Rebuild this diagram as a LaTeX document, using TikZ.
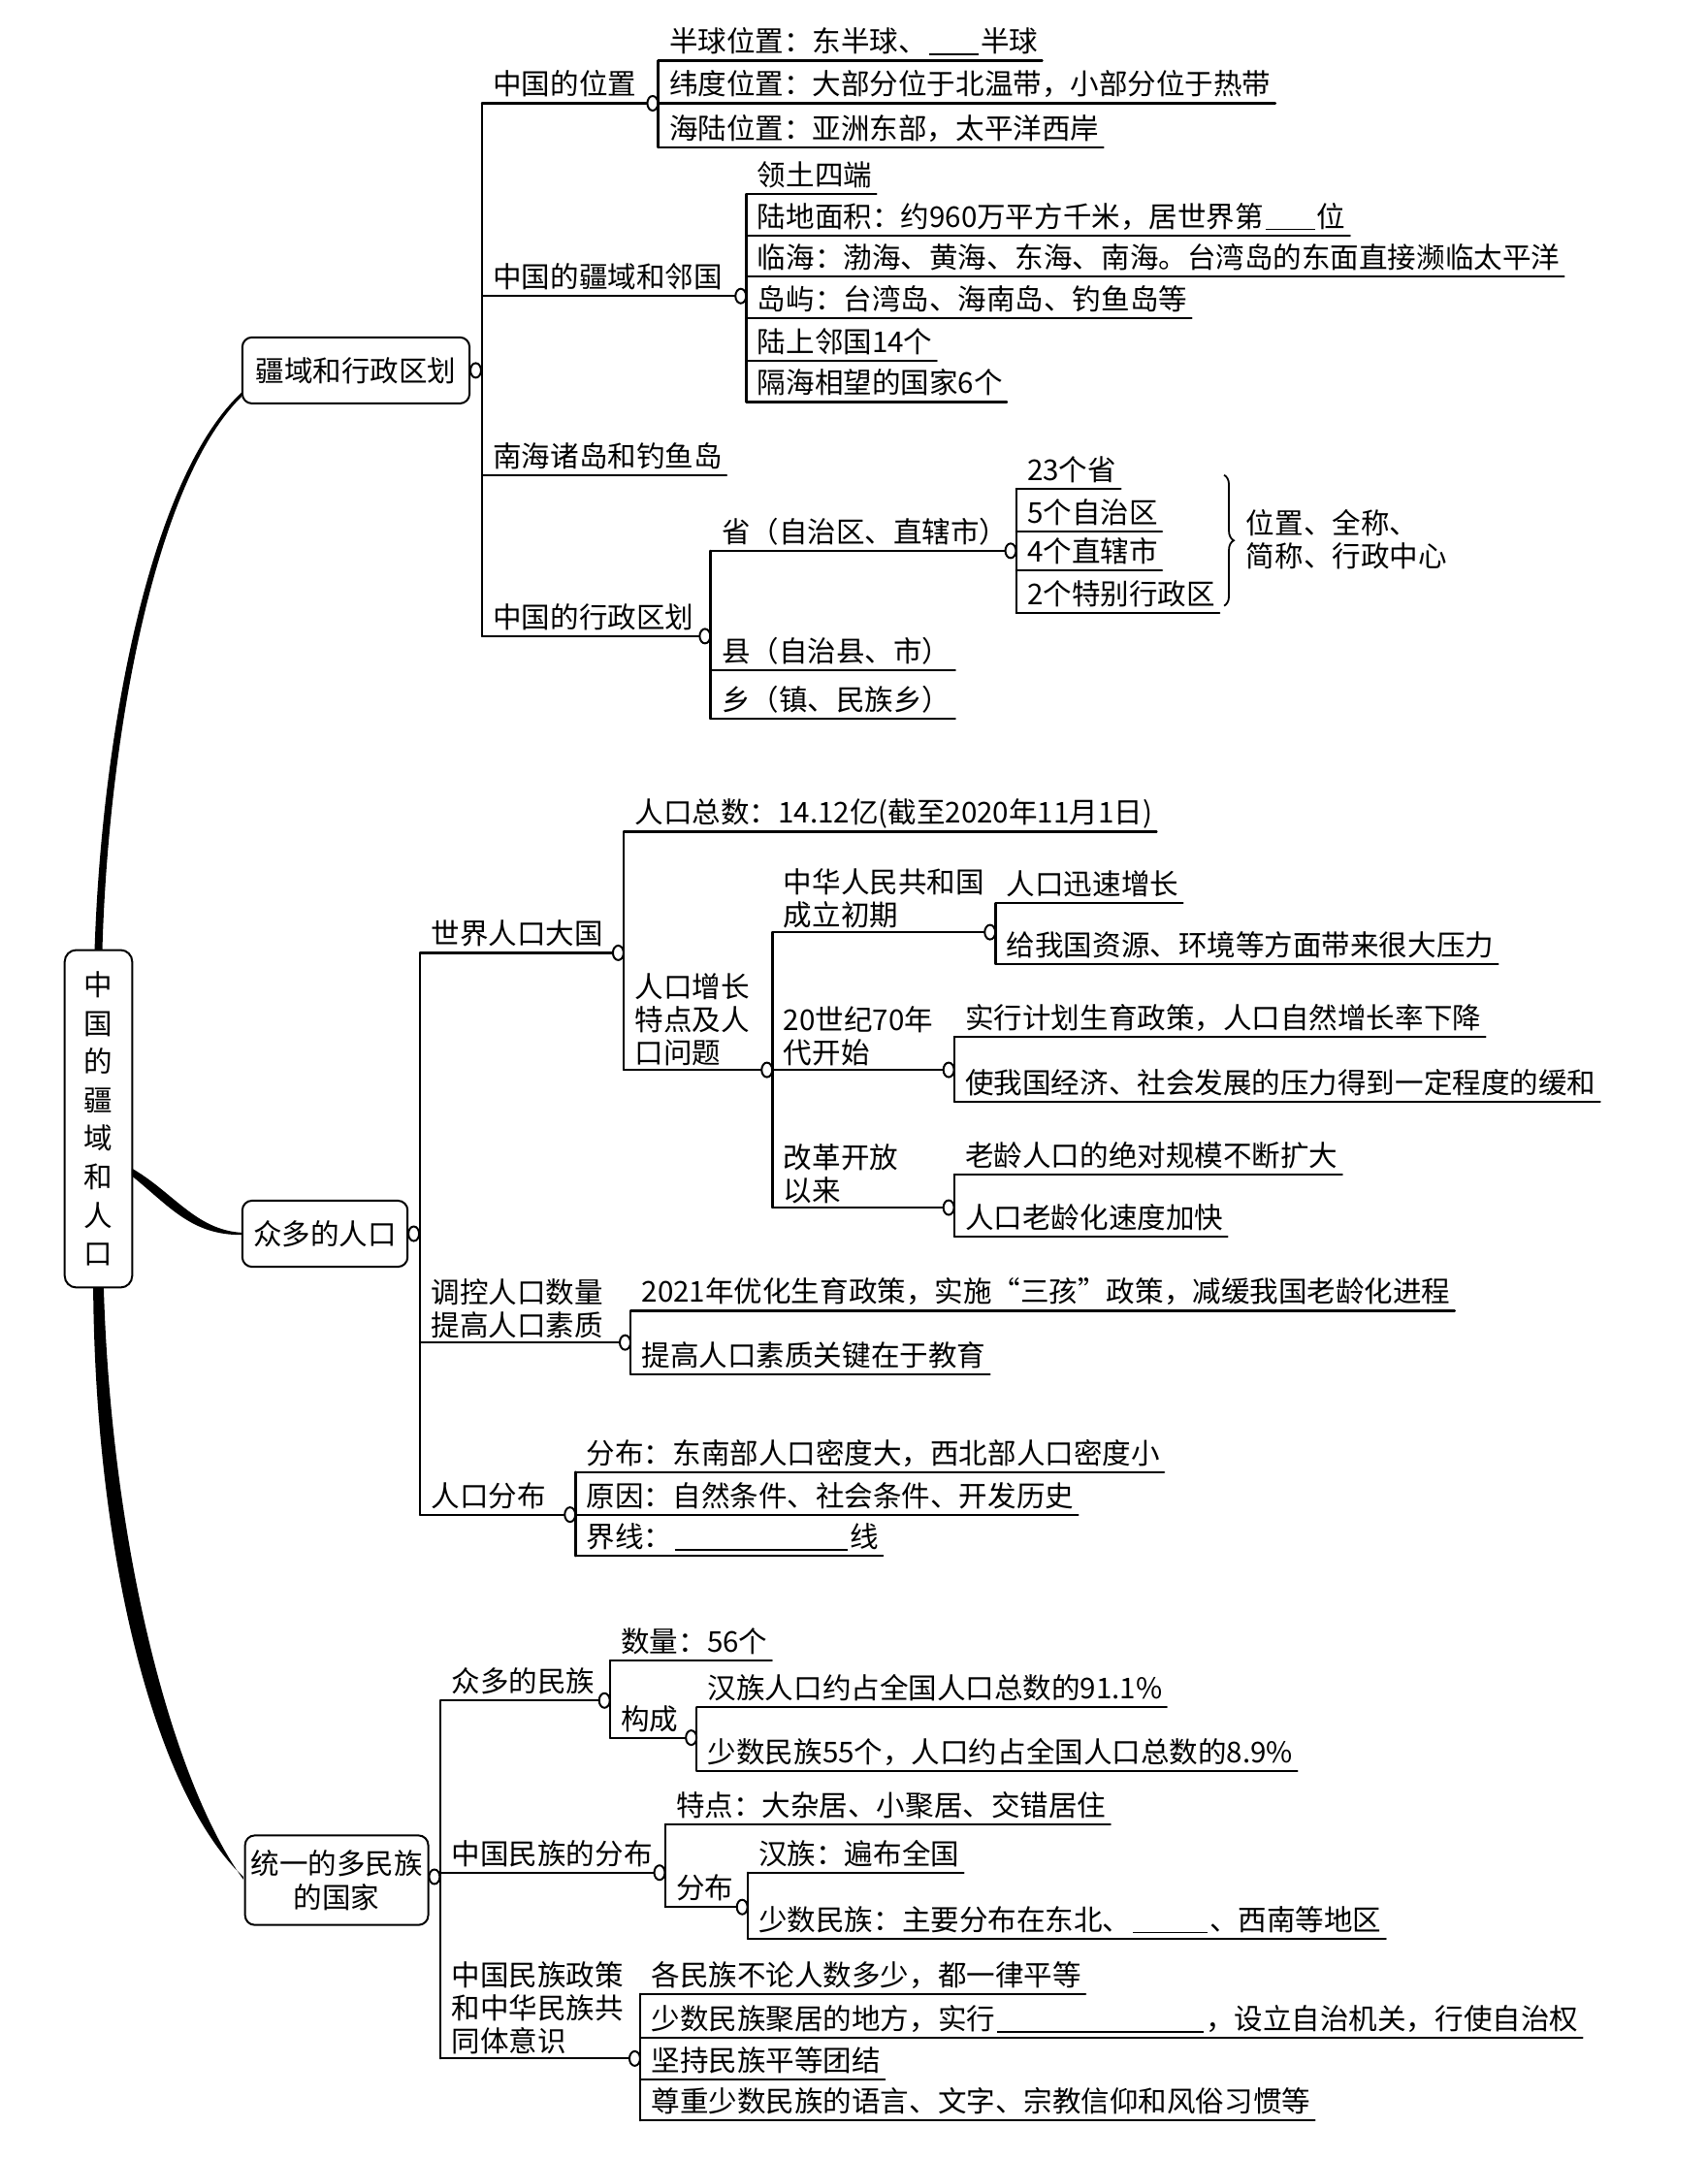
\documentclass[tikz,border=0pt]{standalone}
\usepackage{fontspec}
\setmainfont{Noto Sans CJK SC}
\usetikzlibrary{calc,shapes.geometric,decorations.pathreplacing}

\newcommand\blank[1]{\hspace{1pt}\rule[-1.5pt]{#1}{0.7pt}\hspace{1pt}}
\tikzset{
  ln/.style={line width=1.1pt, line cap=round, line join=round},
  lblbase/.style={inner xsep=2pt, inner ysep=0pt, font=\fontsize{14.8pt}{17pt}\selectfont},
  lbl/.style={lblbase, anchor=base west, yshift=4.3pt},
  lblm/.style={lblbase, anchor=south west, align=left, yshift=2pt},
  knob/.style={ellipse, draw, line width=1pt, fill=white, minimum width=5.5pt, minimum height=7.5pt, inner sep=0pt},
  mainbox/.style={draw, line width=1pt, rounded corners=5pt, align=center, inner sep=0pt,
    font=\fontsize{14.8pt}{17.7pt}\selectfont},
}
% leaf: [style]{name}{vertical x}{underline y}{text}
\newcommand\mmleaf[5][lbl]{%
  \coordinate (#2-u) at (#3,#4);
  \node[#1] (#2) at (#3+5,#4) {#5};
  \draw[ln] (#2-u) -- (#2.east |- #2-u);
}
% branch: [style]{name}{vertical x}{underline y}{child vertical x}{text}
\newcommand\mmbranch[6][lbl]{%
  \coordinate (#2-u) at (#3,#4);
  \node[#1] (#2) at (#3+5,#4) {#6};
  \node[knob] (#2-k) at (#5-4,#4) {};
  \draw[ln] (#2-u) -- (#2-k.west);
}

\begin{document}
\begin{tikzpicture}[x=0.025cm, y=-0.025cm]
\fill[white] (0,0) rectangle (1240,1568);
\useasboundingbox (0,0) rectangle (1240,1568);

% root and main boxes
\node[mainbox, minimum width=1.225cm, minimum height=6.125cm, rounded corners=6pt,
  font=\fontsize{14.8pt}{19.85pt}\selectfont] (root) at (71.5,812.5) {中\\国\\的\\疆\\域\\和\\人\\口};
\node[mainbox, minimum width=4.125cm, minimum height=1.2cm] (b1) at (258.5,269) {疆域和行政区划};
\node[mainbox, minimum width=3cm, minimum height=1.2cm] (b2) at (236,896) {众多的人口};
\node[mainbox, minimum width=3.325cm, minimum height=1.625cm] (b3) at (244.5,1365.5) {统一的多民族\\的国家};

% thick tapered connectors
\fill ($(root.north)+(-2.8,1)$) .. controls (73.5,540) and (107,349) .. ($(b1.south west)+(0,-8.5)$)
   -- ($(b1.south west)+(0,-5.5)$) .. controls (111,352) and (78.5,540) .. ($(root.north)+(2.8,1)$) -- cycle;
\fill ($(root.east)+(-1,36)$) .. controls (126,866) and (142,893) .. ($(b2.west)+(0,-0.8)$)
   -- ($(b2.west)+(0,0.8)$) .. controls (139,897) and (123,876) .. ($(root.east)+(-1,41.5)$) -- cycle;
\fill ($(root.south)+(-3.8,-1)$) .. controls (69,1130) and (113,1304) .. ($(b3.west)+(-0.5,-2.5)$)
   -- ($(b3.west)+(-0.5,-0.5)$) .. controls (126,1296) and (81,1126) .. ($(root.south)+(3.8,-1)$) -- cycle;

% ===== Section 1 =====
\node[knob] (b1-k) at (345.5,269) {};
\mmbranch{p1}{350}{75}{478}{中国的位置}
\mmbranch{p2}{350}{215}{542}{中国的疆域和邻国}
\mmleaf{p3}{350}{345}{南海诸岛和钓鱼岛}
\mmbranch{p4}{350}{462}{516}{中国的行政区划}
\draw[ln] (p1-u) -- (p4-u);

\mmleaf{p1a}{478}{44}{半球位置：东半球、\blank{0.9cm}半球}
\mmleaf{p1b}{478}{75}{纬度位置：大部分位于北温带，小部分位于热带}
\mmleaf{p1c}{478}{107}{海陆位置：亚洲东部，太平洋西岸}
\draw[ln] (p1a-u) -- (p1c-u);

\mmleaf{p2a}{542}{141}{领土四端}
\mmleaf{p2b}{542}{171}{陆地面积：约960万平方千米，居世界第\blank{0.9cm}位}
\mmleaf{p2c}{542}{201}{临海：渤海、黄海、东海、南海。台湾岛的东面直接濒临太平洋}
\mmleaf{p2d}{542}{231}{岛屿：台湾岛、海南岛、钓鱼岛等}
\mmleaf{p2e}{542}{262}{陆上邻国14个}
\mmleaf{p2f}{542}{292}{隔海相望的国家6个}
\draw[ln] (p2a-u) -- (p2f-u);

\mmbranch{p4a}{516}{400}{738}{省（自治区、直辖市）}
\mmleaf{p4b}{516}{487}{县（自治县、市）}
\mmleaf{p4c}{516}{522}{乡（镇、民族乡）}
\draw[ln] (p4a-u) -- (p4c-u);

\mmleaf{p4a1}{738}{355}{23个省}
\mmleaf{p4a2}{738}{386}{5个自治区}
\mmleaf{p4a3}{738}{414}{4个直辖市}
\mmleaf{p4a4}{738}{445}{2个特别行政区}
\draw[ln] (p4a1-u) -- (p4a4-u);

\coordinate (brT) at (889,345);
\coordinate (brB) at (889,440);
\draw[line width=0.9pt, decorate, decoration={brace, amplitude=5pt}] (brT) -- (brB);
\node[lblbase, anchor=west, align=left] (brtxt) at (902,392) {位置、全称、\\简称、行政中心};

% ===== Section 2 =====
\node[knob] (b2-k) at (300.5,896) {};
\mmbranch{q1}{305}{692}{453}{世界人口大国}
\mmbranch[lblm]{q2}{305}{975}{458}{调控人口数量\\提高人口素质}
\mmbranch{q3}{305}{1100}{418}{人口分布}
\draw[ln] (q1-u) -- (q3-u);

\mmleaf{q1a}{453}{604}{人口总数：14.12亿(截至2020年11月1日)}
\mmbranch[lblm]{q1b}{453}{777}{561}{人口增长\\特点及人\\口问题}
\draw[ln] (q1a-u) -- (q1b-u);

\mmbranch[lblm]{q1b1}{561}{677}{723}{中华人民共和国\\成立初期}
\mmbranch[lblm]{q1b2}{561}{777}{693}{20世纪70年\\代开始}
\mmbranch[lblm]{q1b3}{561}{877}{693}{改革开放\\以来}
\draw[ln] (q1b1-u) -- (q1b3-u);

\mmleaf{r1a}{723}{656}{人口迅速增长}
\mmleaf{r1b}{723}{700}{给我国资源、环境等方面带来很大压力}
\draw[ln] (r1a-u) -- (r1b-u);
\mmleaf{r2a}{693}{753}{实行计划生育政策，人口自然增长率下降}
\mmleaf{r2b}{693}{800}{使我国经济、社会发展的压力得到一定程度的缓和}
\draw[ln] (r2a-u) -- (r2b-u);
\mmleaf{r3a}{693}{853}{老龄人口的绝对规模不断扩大}
\mmleaf{r3b}{693}{898}{人口老龄化速度加快}
\draw[ln] (r3a-u) -- (r3b-u);

\mmleaf{q2a}{458}{952}{2021年优化生育政策，实施“三孩”政策，减缓我国老龄化进程}
\mmleaf{q2b}{458}{998}{提高人口素质关键在于教育}
\draw[ln] (q2a-u) -- (q2b-u);

\mmleaf{q3a}{418}{1069}{分布：东南部人口密度大，西北部人口密度小}
\mmleaf{q3b}{418}{1100}{原因：自然条件、社会条件、开发历史}
\mmleaf{q3c}{418}{1130}{界线：\blank{3.15cm}线}
\draw[ln] (q3a-u) -- (q3c-u);

% ===== Section 3 =====
\node[knob] (b3-k) at (315.5,1363) {};
\mmbranch{s1}{320}{1235}{443}{众多的民族}
\mmbranch{s2}{320}{1360}{483}{中国民族的分布}
\mmbranch[lblm]{s3}{320}{1495}{465}{中国民族政策\\和中华民族共\\同体意识}
\draw[ln] (s1-u) -- (s3-u);

\mmleaf{s1a}{443}{1206}{数量：56个}
\mmbranch{s1b}{443}{1262}{506}{构成}
\draw[ln] (s1a-u) -- (s1b-u);
\mmleaf{s1b1}{506}{1240}{汉族人口约占全国人口总数的91.1\%}
\mmleaf{s1b2}{506}{1286}{少数民族55个，人口约占全国人口总数的8.9\%}
\draw[ln] (s1b1-u) -- (s1b2-u);

\mmleaf{s2a}{483}{1325}{特点：大杂居、小聚居、交错居住}
\mmbranch{s2b}{483}{1385}{543}{分布}
\draw[ln] (s2a-u) -- (s2b-u);
\mmleaf{s2b1}{543}{1360}{汉族：遍布全国}
\mmleaf{s2b2}{543}{1408}{少数民族：主要分布在东北、\blank{1.35cm}、西南等地区}
\draw[ln] (s2b1-u) -- (s2b2-u);

\mmleaf{s3a}{465}{1448}{各民族不论人数多少，都一律平等}
\mmleaf{s3b}{465}{1480}{少数民族聚居的地方，实行\blank{3.75cm}，设立自治机关，行使自治权}
\mmleaf{s3c}{465}{1510}{坚持民族平等团结}
\mmleaf{s3d}{465}{1540}{尊重少数民族的语言、文字、宗教信仰和风俗习惯等}
\draw[ln] (s3a-u) -- (s3d-u);
\end{tikzpicture}
\end{document}
